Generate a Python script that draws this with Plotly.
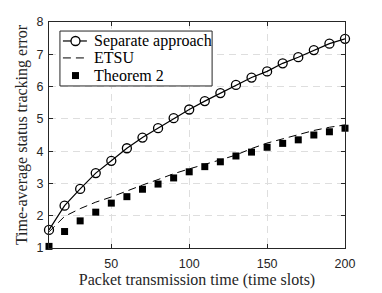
import plotly.graph_objects as go

x_slots = [10, 20, 30, 40, 50, 60, 70, 80, 90, 100, 110, 120, 130, 140, 150, 160, 170, 180, 190, 200]
separate = [1.56, 2.31, 2.83, 3.32, 3.70, 4.09, 4.42, 4.71, 5.02, 5.29, 5.55, 5.80, 6.05, 6.28, 6.47, 6.72, 6.91, 7.13, 7.33, 7.48]
etsu = [1.50, 1.98, 2.22, 2.42, 2.58, 2.77, 2.95, 3.12, 3.30, 3.45, 3.58, 3.73, 3.88, 4.08, 4.25, 4.38, 4.52, 4.64, 4.74, 4.81]
theorem2 = [1.05, 1.51, 1.84, 2.11, 2.39, 2.59, 2.82, 2.98, 3.17, 3.36, 3.52, 3.67, 3.85, 3.97, 4.12, 4.24, 4.35, 4.50, 4.60, 4.71]

series_names = ["Separate approach", "ETSU", "Theorem 2"]
x_ticks = [50, 100, 150, 200]
y_ticks = [1, 2, 3, 4, 5, 6, 7, 8]

serif = "Liberation Serif, DejaVu Serif, serif"
sans = "Liberation Sans, Arial, sans-serif"
INK = "#262626"

fig = go.Figure()
fig.add_trace(go.Scatter(
    x=x_slots, y=separate, mode="lines+markers", name=series_names[0],
    line=dict(color="black", width=1.2), cliponaxis=False,
    marker=dict(symbol="circle-open", size=9, color="black", line=dict(width=1.3)),
))
fig.add_trace(go.Scatter(
    x=x_slots, y=etsu, mode="lines", name=series_names[1],
    line=dict(color="black", width=1, dash="8px,5px"),
))
fig.add_trace(go.Scatter(
    x=x_slots, y=theorem2, mode="markers", name=series_names[2], cliponaxis=False,
    marker=dict(symbol="square", size=7, color="black"),
))

axis_common = dict(
    showline=True, linecolor=INK, linewidth=1, mirror="ticks",
    ticks="inside", ticklen=4, tickcolor=INK,
    showgrid=True, gridcolor="#dedede", griddash="7px,5px", gridwidth=1,
    zeroline=False, automargin=False,
    tickfont=dict(family=sans, size=12.5, color=INK),
)

# ---- legend drawn as a boxed key in paper coordinates ----
box = dict(x0=0.037, x1=0.551, y0=0.717, y1=0.960)
rows_y = [0.916, 0.841, 0.763]
sym_x0, sym_x1, sym_xc, text_x = 0.047, 0.128, 0.0895, 0.146

shapes = [dict(type="rect", xref="paper", yref="paper", **box,
               line=dict(color=INK, width=1), fillcolor="white", layer="above")]
shapes.append(dict(type="line", xref="paper", yref="paper", x0=sym_x0, x1=sym_x1,
                   y0=rows_y[0], y1=rows_y[0], line=dict(color="black", width=1.2), layer="above"))
shapes.append(dict(type="circle", xref="paper", yref="paper", xsizemode="pixel", ysizemode="pixel",
                   xanchor=sym_xc, yanchor=rows_y[0], x0=-4.5, x1=4.5, y0=-4.5, y1=4.5,
                   line=dict(color="black", width=1.3), fillcolor="white", layer="above"))
shapes.append(dict(type="line", xref="paper", yref="paper", x0=sym_x0, x1=sym_x1,
                   y0=rows_y[1], y1=rows_y[1], line=dict(color="black", width=1, dash="8px,5px"),
                   layer="above"))
shapes.append(dict(type="rect", xref="paper", yref="paper", xsizemode="pixel", ysizemode="pixel",
                   xanchor=sym_xc, yanchor=rows_y[2], x0=-3.5, x1=3.5, y0=-3.5, y1=3.5,
                   line=dict(color="black", width=0), fillcolor="black", layer="above"))

annotations = [dict(text=name, xref="paper", yref="paper", x=text_x, y=yy,
                    xanchor="left", yanchor="middle", showarrow=False,
                    font=dict(family=serif, size=16, color="black"))
               for name, yy in zip(series_names, rows_y)]

fig.update_layout(
    width=382, height=293,
    margin=dict(l=49, r=37, t=22, b=45),
    paper_bgcolor="white", plot_bgcolor="white",
    showlegend=False,
    shapes=shapes, annotations=annotations,
    xaxis=dict(range=[10, 200], tickvals=x_ticks, ticklabelstandoff=4,
               title=dict(text="Packet transmission time (time slots)", standoff=2,
                          font=dict(family=serif, size=16, color=INK)),
               **axis_common),
    yaxis=dict(range=[1, 8], tickvals=y_ticks, ticklabelstandoff=2,
               title=dict(text="Time-average status tracking error", standoff=4,
                          font=dict(family=serif, size=16, color=INK)),
               **axis_common),
)

fig.write_html("out.html", config={"displayModeBar": False},
               post_script="document.body.style.margin='0';document.body.style.overflow='hidden';")
